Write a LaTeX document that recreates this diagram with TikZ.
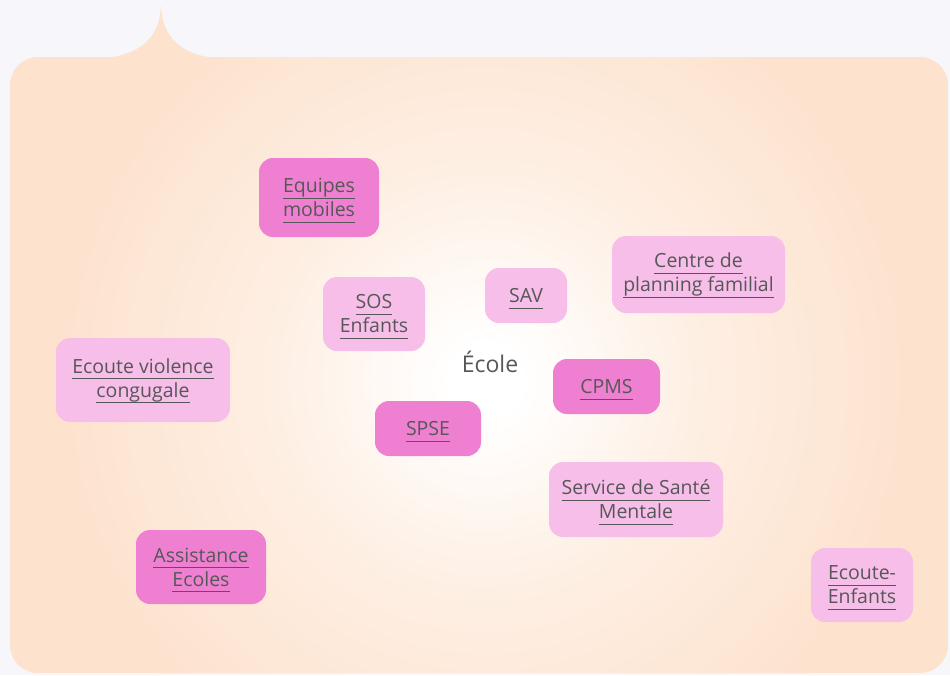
\documentclass[tikz,border=0pt]{standalone}
\usepackage{fontspec}
\setmainfont{Open Sans}

\definecolor{fond}{HTML}{F7F6FA}
\definecolor{peche}{HTML}{FDE2CD}
\definecolor{rosefonce}{HTML}{EF80D1}
\definecolor{roseclair}{HTML}{F6BEE9}
\definecolor{gris}{HTML}{575757}

% halo blanc au centre de la bulle
\pgfdeclareradialshading{halo}{\pgfpoint{0bp}{0bp}}{color(0bp)=(white); color(2bp)=(white); color(12bp)=(peche!55!white); color(25bp)=(peche); color(50bp)=(peche)}

% texte souligne comme un lien
\newcommand\lien[1]{{\setbox0=\hbox{#1}\rlap{\smash{\rule[-6pt]{\wd0}{0.9pt}}}\box0}}

\begin{document}
\begin{tikzpicture}[x=1pt, y=-1pt,
    every node/.style={text=gris, font=\fontsize{19.5}{24}\selectfont},
    boite/.style={rounded corners=14pt, align=center, inner sep=0pt},
    fonce/.style={boite, fill=rosefonce},
    clair/.style={boite, fill=roseclair}]
    \fill[fond] (0,0) rectangle (950,675);
    % la pointe de la bulle
    \fill[peche] (106,58) .. controls (140,54) and (160,38) .. (161,5)
        .. controls (162,38) and (182,54) .. (214,58) -- cycle;
    % la bulle
    \begin{scope}
      \clip[rounded corners=28pt] (10,57) rectangle (948,673);
      \fill[peche] (10,57) rectangle (948,673);
      \shade[shading=halo] (485,380) circle (440);
    \end{scope}

    \node[font=\fontsize{23}{24}\selectfont] (ecole) at (490,362) {École};

    \node[fonce, minimum width=120, minimum height=79] (equipes) at (319,197.5) {\lien{Equipes}\\\lien{mobiles}};
    \node[clair, minimum width=102, minimum height=74] (sos) at (374,314) {\lien{SOS}\\\lien{Enfants}};
    \node[clair, minimum width=82, minimum height=55] (sav) at (526,295.5) {\lien{SAV}};
    \node[clair, minimum width=173, minimum height=77] (planning) at (698.5,274.5) {\lien{Centre de}\\\lien{planning familial}};
    \node[clair, minimum width=174, minimum height=84] (violence) at (143,380) {\lien{Ecoute violence}\\\lien{congugale}};
    \node[fonce, minimum width=107, minimum height=55] (cpms) at (606.5,386.5) {\lien{CPMS}};
    \node[fonce, minimum width=106, minimum height=55] (spse) at (428,428.5) {\lien{SPSE}};
    \node[clair, minimum width=174, minimum height=75] (ssm) at (636,499.5) {\lien{Service de Santé}\\\lien{Mentale}};
    \node[fonce, minimum width=130, minimum height=74] (assistance) at (201,567) {\lien{Assistance}\\\lien{Ecoles}};
    \node[clair, minimum width=102, minimum height=74] (enfants) at (862,585) {\lien{Ecoute-}\\\lien{Enfants}};
\end{tikzpicture}
\end{document}
